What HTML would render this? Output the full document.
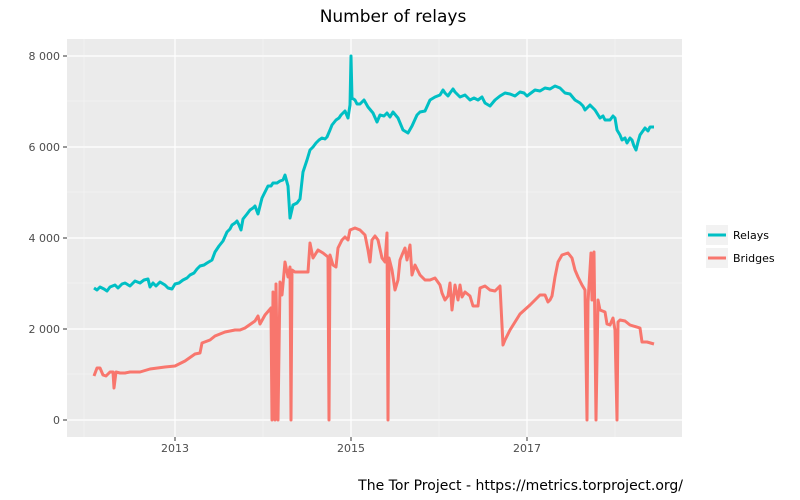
<!DOCTYPE html>
<html><head><meta charset="utf-8"><style>body{margin:0;background:#fff}svg{display:block}</style></head><body>
<svg width="800" height="500" xmlns="http://www.w3.org/2000/svg" font-family="'DejaVu Sans','Liberation Sans',sans-serif">
<rect width="800" height="500" fill="#fff"/>
<text x="393" y="22" font-size="17" text-anchor="middle" fill="#000">Number of relays</text>
<rect x="67" y="39" width="615" height="398" fill="#ebebeb"/>
<g stroke="#f5f5f5" stroke-width="0.6">
<line x1="67" x2="682" y1="101" y2="101"/><line x1="67" x2="682" y1="192" y2="192"/><line x1="67" x2="682" y1="283" y2="283"/><line x1="67" x2="682" y1="374" y2="374"/>
<line y1="39" y2="437" x1="84" x2="84"/><line y1="39" y2="437" x1="263" x2="263"/><line y1="39" y2="437" x1="439" x2="439"/><line y1="39" y2="437" x1="615" x2="615"/>
</g>
<g stroke="#fff" stroke-width="1.2">
<line x1="67" x2="682" y1="56" y2="56"/><line x1="67" x2="682" y1="147" y2="147"/><line x1="67" x2="682" y1="238" y2="238"/><line x1="67" x2="682" y1="329" y2="329"/><line x1="67" x2="682" y1="420" y2="420"/>
<line y1="39" y2="437" x1="175" x2="175"/><line y1="39" y2="437" x1="351" x2="351"/><line y1="39" y2="437" x1="527" x2="527"/>
</g>
<g stroke="#333" stroke-width="1">
<line x1="63" x2="67" y1="56" y2="56"/><line x1="63" x2="67" y1="147" y2="147"/><line x1="63" x2="67" y1="238" y2="238"/><line x1="63" x2="67" y1="329" y2="329"/><line x1="63" x2="67" y1="420" y2="420"/>
<line y1="437" y2="441" x1="175" x2="175"/><line y1="437" y2="441" x1="351" x2="351"/><line y1="437" y2="441" x1="527" x2="527"/>
</g>
<g font-size="11" fill="#4d4d4d" text-anchor="end">
<text x="60" y="60">8 000</text><text x="60" y="151">6 000</text><text x="60" y="242">4 000</text><text x="60" y="333">2 000</text><text x="60" y="424">0</text>
</g>
<g font-size="11" fill="#4d4d4d" text-anchor="middle">
<text x="175" y="452">2013</text><text x="351" y="452">2015</text><text x="527" y="452">2017</text>
</g>
<polyline fill="none" stroke="#00bfc4" stroke-width="3" stroke-linejoin="round" points="94,288 97,290 100,287 104,289 107,291 110,287 115,285 118,288 122,284 125,283 130,286 135,281 140,283 144,280 148,279 150,287 153,283 156,286 160,282 165,285 168,288 172,289 175,284 179,283 183,280 187,278 190,275 194,273 197,269 200,266 204,265 207,263 212,260 215,252 219,246 223,241 227,232 230,229 232,225 235,223 237,221 239,225 241,230 243,219 247,214 250,210 253,208 255,206 258,214 262,198 265,192 268,186 271,186 273,183 277,183 280,181 283,180 285,175 288,186 290,218 293,205 297,203 300,199 303,172 307,160 310,150 313,147 316,143 319,140 322,138 325,139 327,137 330,130 332,125 336,120 339,118 341,115 345,111 348,118 350,105 351,56 352,98 355,100 357,104 360,104 364,100 368,107 373,113 377,122 380,115 384,116 387,113 390,117 393,112 398,118 403,130 408,133 412,126 417,115 420,112 425,111 430,100 435,97 440,95 443,90 445,93 448,96 450,93 453,89 455,92 460,97 465,95 470,100 474,98 478,100 482,97 485,103 490,106 495,100 500,96 505,93 510,94 515,96 520,92 524,93 527,96 531,93 535,90 540,91 545,88 550,89 555,86 560,88 565,93 570,94 575,100 580,103 583,106 585,110 590,105 595,110 600,118 603,116 605,120 610,120 613,116 615,118 617,130 620,135 622,140 625,138 627,143 630,138 632,140 634,146 636,150 638,142 640,135 645,128 648,131 650,127 654,127"/>
<polyline fill="none" stroke="#f8766d" stroke-width="3" stroke-linejoin="round" points="94,376 97,368 100,368 103,375 106,376 110,372 113,372 114,388 116,372 120,373 125,373 130,372 140,372 150,369 165,367 175,366 185,361 195,354 200,353 202,343 210,340 215,336 225,332 235,330 240,330 245,328 255,321 258,316 260,324 265,315 271,308 272,420 273,292 275,420 276,284 278,420 280,282 282,295 285,262 288,277 290,267 291,420 292,270 295,272 300,272 308,272 310,243 313,258 318,250 323,253 328,257 329,420 330,255 333,265 336,267 338,248 340,244 342,240 345,237 348,240 350,230 355,228 360,230 365,235 368,250 370,262 372,240 375,236 378,240 382,258 385,262 387,233 388,420 389,258 392,270 395,290 398,280 400,260 402,255 405,248 407,260 410,245 412,275 415,265 420,275 425,280 430,280 435,278 440,285 442,293 445,300 448,296 450,283 452,310 455,285 458,300 460,285 462,297 465,292 470,296 473,306 478,306 480,288 485,286 490,290 495,291 500,286 503,345 505,340 510,330 515,322 520,314 530,305 540,295 545,295 548,302 550,300 552,296 555,277 558,262 562,255 568,253 572,258 575,270 578,277 582,285 585,290 587,420 588,302 591,253 592,300 594,252 596,420 598,300 600,310 605,312 607,324 610,325 613,318 615,330 617,420 618,322 620,320 625,321 630,325 640,328 642,342 647,342 654,344"/>
<rect x="706" y="225" width="22" height="20" fill="#f2f2f2"/>
<rect x="706" y="248" width="22" height="20" fill="#f2f2f2"/>
<line x1="708" x2="726" y1="235" y2="235" stroke="#00bfc4" stroke-width="3"/>
<line x1="708" x2="726" y1="258" y2="258" stroke="#f8766d" stroke-width="3"/>
<g font-size="11" fill="#000"><text x="733" y="239">Relays</text><text x="733" y="262">Bridges</text></g>
<text x="683" y="490" font-size="14" text-anchor="end" fill="#000">The Tor Project - https://metrics.torproject.org/</text>
</svg>
</body></html>
